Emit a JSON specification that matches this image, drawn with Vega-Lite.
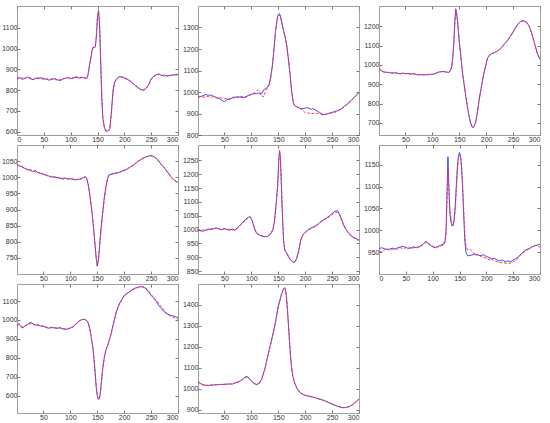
{
"$schema": "https://vega.github.io/schema/vega-lite/v6.json",
"padding": {"left": 1, "top": 5, "right": 5, "bottom": 2},
"columns": 3,
"spacing": {"row": 10, "column": 20},
"bounds": "flush",
"config": {"view": {"stroke": null}, "axis": {"labelFont": "Liberation Sans", "labelFontSize": 7, "labelColor": "#333333", "tickColor": "#555555", "domainColor": "#888888", "grid": false, "tickSize": -3, "labelPadding": 3, "domainWidth": 0.8, "tickWidth": 0.8, "format": "d"}},
"datasets": {"d": [
{"p":1,"x":0,"b":855,"r":852},{"p":1,"x":5,"b":860,"r":862},{"p":1,"x":10,"b":852,"r":858},{"p":1,"x":15,"b":858,"r":855},{"p":1,"x":20,"b":862,"r":865},{"p":1,"x":25,"b":855,"r":858},{"p":1,"x":30,"b":850,"r":852},{"p":1,"x":35,"b":858,"r":856},{"p":1,"x":40,"b":855,"r":860},{"p":1,"x":45,"b":860,"r":855},{"p":1,"x":50,"b":855,"r":852},{"p":1,"x":55,"b":852,"r":856},{"p":1,"x":60,"b":848,"r":850},{"p":1,"x":65,"b":852,"r":855},{"p":1,"x":70,"b":856,"r":852},{"p":1,"x":75,"b":850,"r":848},{"p":1,"x":80,"b":846,"r":850},{"p":1,"x":85,"b":852,"r":855},{"p":1,"x":90,"b":858,"r":856},{"p":1,"x":95,"b":860,"r":862},{"p":1,"x":100,"b":855,"r":858},{"p":1,"x":105,"b":860,"r":856},{"p":1,"x":110,"b":862,"r":865},{"p":1,"x":115,"b":858,"r":860},{"p":1,"x":120,"b":862,"r":858},{"p":1,"x":125,"b":860,"r":862},{"p":1,"x":130,"b":855,"r":858},{"p":1,"x":132,"b":870,"r":868},{"p":1,"x":135,"b":920,"r":915},{"p":1,"x":138,"b":960,"r":958},{"p":1,"x":140,"b":995,"r":990},{"p":1,"x":142,"b":1008,"r":1005},{"p":1,"x":144,"b":1005,"r":1002},{"p":1,"x":146,"b":1010,"r":1008},{"p":1,"x":148,"b":1060,"r":1070},{"p":1,"x":150,"b":1150,"r":1160},{"p":1,"x":152,"b":1182,"r":1185},{"p":1,"x":154,"b":1100,"r":1120},{"p":1,"x":156,"b":920,"r":950},{"p":1,"x":158,"b":760,"r":780},{"p":1,"x":160,"b":665,"r":660},{"p":1,"x":163,"b":620,"r":615},{"p":1,"x":166,"b":602,"r":600},{"p":1,"x":170,"b":605,"r":603},{"p":1,"x":173,"b":615,"r":612},{"p":1,"x":176,"b":700,"r":690},{"p":1,"x":179,"b":800,"r":790},{"p":1,"x":182,"b":840,"r":838},{"p":1,"x":186,"b":855,"r":852},{"p":1,"x":190,"b":865,"r":862},{"p":1,"x":195,"b":863,"r":865},{"p":1,"x":200,"b":858,"r":860},{"p":1,"x":205,"b":852,"r":855},{"p":1,"x":210,"b":845,"r":848},{"p":1,"x":215,"b":835,"r":832},{"p":1,"x":220,"b":822,"r":825},{"p":1,"x":225,"b":812,"r":815},{"p":1,"x":230,"b":805,"r":802},{"p":1,"x":235,"b":800,"r":798},{"p":1,"x":240,"b":808,"r":805},{"p":1,"x":245,"b":825,"r":822},{"p":1,"x":250,"b":855,"r":850},{"p":1,"x":255,"b":868,"r":865},{"p":1,"x":260,"b":875,"r":872},{"p":1,"x":265,"b":877,"r":875},{"p":1,"x":270,"b":870,"r":874},{"p":1,"x":275,"b":872,"r":866},{"p":1,"x":280,"b":868,"r":870},{"p":1,"x":285,"b":870,"r":872},{"p":1,"x":290,"b":873,"r":870},{"p":1,"x":295,"b":875,"r":872},{"p":1,"x":300,"b":876,"r":874},
{"p":2,"x":1,"b":975,"r":978},{"p":2,"x":5,"b":978,"r":980},{"p":2,"x":10,"b":982,"r":975},{"p":2,"x":15,"b":988,"r":978},{"p":2,"x":20,"b":985,"r":980},{"p":2,"x":25,"b":986,"r":975},{"p":2,"x":30,"b":980,"r":978},{"p":2,"x":35,"b":975,"r":972},{"p":2,"x":40,"b":970,"r":975},{"p":2,"x":45,"b":962,"r":972},{"p":2,"x":50,"b":955,"r":968},{"p":2,"x":55,"b":965,"r":972},{"p":2,"x":60,"b":968,"r":965},{"p":2,"x":65,"b":972,"r":975},{"p":2,"x":70,"b":975,"r":978},{"p":2,"x":75,"b":978,"r":975},{"p":2,"x":80,"b":976,"r":980},{"p":2,"x":85,"b":974,"r":978},{"p":2,"x":90,"b":978,"r":976},{"p":2,"x":95,"b":985,"r":982},{"p":2,"x":100,"b":990,"r":988},{"p":2,"x":105,"b":992,"r":995},{"p":2,"x":110,"b":993,"r":1005},{"p":2,"x":113,"b":995,"r":1010},{"p":2,"x":116,"b":990,"r":1000},{"p":2,"x":120,"b":995,"r":980},{"p":2,"x":123,"b":1010,"r":978},{"p":2,"x":126,"b":1015,"r":1000},{"p":2,"x":130,"b":1022,"r":1020},{"p":2,"x":133,"b":1035,"r":1030},{"p":2,"x":136,"b":1070,"r":1065},{"p":2,"x":139,"b":1120,"r":1115},{"p":2,"x":142,"b":1200,"r":1190},{"p":2,"x":145,"b":1285,"r":1280},{"p":2,"x":148,"b":1340,"r":1335},{"p":2,"x":150,"b":1360,"r":1355},{"p":2,"x":152,"b":1365,"r":1358},{"p":2,"x":154,"b":1355,"r":1350},{"p":2,"x":157,"b":1320,"r":1315},{"p":2,"x":160,"b":1285,"r":1280},{"p":2,"x":163,"b":1255,"r":1250},{"p":2,"x":166,"b":1215,"r":1210},{"p":2,"x":169,"b":1150,"r":1150},{"p":2,"x":172,"b":1080,"r":1085},{"p":2,"x":175,"b":1000,"r":1005},{"p":2,"x":178,"b":948,"r":950},{"p":2,"x":181,"b":935,"r":938},{"p":2,"x":185,"b":930,"r":932},{"p":2,"x":190,"b":925,"r":925},{"p":2,"x":195,"b":922,"r":915},{"p":2,"x":200,"b":925,"r":905},{"p":2,"x":205,"b":928,"r":902},{"p":2,"x":210,"b":920,"r":900},{"p":2,"x":215,"b":922,"r":900},{"p":2,"x":220,"b":915,"r":902},{"p":2,"x":225,"b":908,"r":900},{"p":2,"x":230,"b":900,"r":895},{"p":2,"x":235,"b":895,"r":893},{"p":2,"x":240,"b":897,"r":898},{"p":2,"x":245,"b":902,"r":900},{"p":2,"x":250,"b":905,"r":903},{"p":2,"x":255,"b":910,"r":905},{"p":2,"x":260,"b":912,"r":912},{"p":2,"x":265,"b":918,"r":920},{"p":2,"x":270,"b":928,"r":925},{"p":2,"x":275,"b":938,"r":936},{"p":2,"x":280,"b":948,"r":946},{"p":2,"x":285,"b":960,"r":958},{"p":2,"x":290,"b":972,"r":970},{"p":2,"x":295,"b":985,"r":983},{"p":2,"x":300,"b":998,"r":996},
{"p":3,"x":1,"b":985,"r":982},{"p":3,"x":3,"b":978,"r":980},{"p":3,"x":6,"b":968,"r":970},{"p":3,"x":10,"b":964,"r":962},{"p":3,"x":15,"b":962,"r":960},{"p":3,"x":20,"b":960,"r":962},{"p":3,"x":25,"b":958,"r":956},{"p":3,"x":30,"b":960,"r":958},{"p":3,"x":35,"b":956,"r":958},{"p":3,"x":40,"b":955,"r":953},{"p":3,"x":45,"b":958,"r":955},{"p":3,"x":50,"b":954,"r":956},{"p":3,"x":55,"b":956,"r":953},{"p":3,"x":60,"b":952,"r":954},{"p":3,"x":65,"b":955,"r":952},{"p":3,"x":70,"b":950,"r":952},{"p":3,"x":75,"b":949,"r":950},{"p":3,"x":80,"b":950,"r":948},{"p":3,"x":85,"b":948,"r":950},{"p":3,"x":90,"b":950,"r":948},{"p":3,"x":95,"b":952,"r":950},{"p":3,"x":100,"b":950,"r":952},{"p":3,"x":105,"b":955,"r":953},{"p":3,"x":110,"b":962,"r":960},{"p":3,"x":115,"b":964,"r":965},{"p":3,"x":120,"b":966,"r":964},{"p":3,"x":125,"b":963,"r":965},{"p":3,"x":130,"b":962,"r":960},{"p":3,"x":133,"b":968,"r":966},{"p":3,"x":136,"b":990,"r":985},{"p":3,"x":138,"b":1040,"r":1035},{"p":3,"x":140,"b":1120,"r":1110},{"p":3,"x":142,"b":1230,"r":1220},{"p":3,"x":143.5,"b":1290,"r":1285},{"p":3,"x":145,"b":1270,"r":1275},{"p":3,"x":147,"b":1220,"r":1225},{"p":3,"x":150,"b":1120,"r":1130},{"p":3,"x":153,"b":1040,"r":1045},{"p":3,"x":156,"b":960,"r":965},{"p":3,"x":159,"b":900,"r":905},{"p":3,"x":162,"b":840,"r":842},{"p":3,"x":165,"b":785,"r":790},{"p":3,"x":168,"b":740,"r":742},{"p":3,"x":171,"b":700,"r":705},{"p":3,"x":174,"b":678,"r":680},{"p":3,"x":176,"b":676,"r":678},{"p":3,"x":178,"b":685,"r":686},{"p":3,"x":181,"b":710,"r":712},{"p":3,"x":184,"b":760,"r":758},{"p":3,"x":187,"b":820,"r":818},{"p":3,"x":190,"b":870,"r":868},{"p":3,"x":193,"b":915,"r":912},{"p":3,"x":196,"b":960,"r":958},{"p":3,"x":199,"b":995,"r":992},{"p":3,"x":202,"b":1030,"r":1028},{"p":3,"x":205,"b":1048,"r":1046},{"p":3,"x":210,"b":1058,"r":1056},{"p":3,"x":215,"b":1063,"r":1062},{"p":3,"x":220,"b":1070,"r":1070},{"p":3,"x":225,"b":1080,"r":1078},{"p":3,"x":230,"b":1095,"r":1093},{"p":3,"x":235,"b":1112,"r":1110},{"p":3,"x":240,"b":1128,"r":1126},{"p":3,"x":245,"b":1148,"r":1146},{"p":3,"x":250,"b":1170,"r":1168},{"p":3,"x":255,"b":1195,"r":1193},{"p":3,"x":260,"b":1215,"r":1213},{"p":3,"x":265,"b":1226,"r":1224},{"p":3,"x":270,"b":1228,"r":1227},{"p":3,"x":275,"b":1220,"r":1218},{"p":3,"x":280,"b":1200,"r":1198},{"p":3,"x":285,"b":1160,"r":1158},{"p":3,"x":290,"b":1110,"r":1108},{"p":3,"x":295,"b":1060,"r":1058},{"p":3,"x":300,"b":1028,"r":1030},
{"p":4,"x":1,"b":1040,"r":1038},{"p":4,"x":5,"b":1036,"r":1035},{"p":4,"x":10,"b":1032,"r":1034},{"p":4,"x":15,"b":1028,"r":1030},{"p":4,"x":20,"b":1025,"r":1022},{"p":4,"x":25,"b":1022,"r":1024},{"p":4,"x":30,"b":1018,"r":1020},{"p":4,"x":35,"b":1020,"r":1017},{"p":4,"x":40,"b":1015,"r":1014},{"p":4,"x":45,"b":1012,"r":1014},{"p":4,"x":50,"b":1010,"r":1008},{"p":4,"x":55,"b":1006,"r":1008},{"p":4,"x":60,"b":1004,"r":1002},{"p":4,"x":65,"b":1000,"r":1003},{"p":4,"x":70,"b":1002,"r":998},{"p":4,"x":75,"b":999,"r":1001},{"p":4,"x":80,"b":997,"r":999},{"p":4,"x":85,"b":996,"r":994},{"p":4,"x":90,"b":998,"r":995},{"p":4,"x":95,"b":994,"r":996},{"p":4,"x":100,"b":996,"r":994},{"p":4,"x":105,"b":993,"r":995},{"p":4,"x":110,"b":992,"r":994},{"p":4,"x":115,"b":994,"r":992},{"p":4,"x":120,"b":994,"r":996},{"p":4,"x":125,"b":1000,"r":998},{"p":4,"x":128,"b":1002,"r":1000},{"p":4,"x":131,"b":994,"r":995},{"p":4,"x":134,"b":970,"r":972},{"p":4,"x":137,"b":935,"r":938},{"p":4,"x":140,"b":895,"r":898},{"p":4,"x":143,"b":845,"r":848},{"p":4,"x":146,"b":790,"r":792},{"p":4,"x":148,"b":750,"r":752},{"p":4,"x":150,"b":724,"r":726},{"p":4,"x":152,"b":740,"r":738},{"p":4,"x":154,"b":780,"r":775},{"p":4,"x":157,"b":840,"r":835},{"p":4,"x":160,"b":890,"r":885},{"p":4,"x":163,"b":935,"r":930},{"p":4,"x":166,"b":970,"r":966},{"p":4,"x":169,"b":995,"r":992},{"p":4,"x":172,"b":1008,"r":1006},{"p":4,"x":176,"b":1010,"r":1009},{"p":4,"x":180,"b":1012,"r":1010},{"p":4,"x":185,"b":1012,"r":1014},{"p":4,"x":190,"b":1015,"r":1013},{"p":4,"x":195,"b":1018,"r":1019},{"p":4,"x":200,"b":1022,"r":1020},{"p":4,"x":205,"b":1025,"r":1024},{"p":4,"x":210,"b":1030,"r":1032},{"p":4,"x":215,"b":1036,"r":1034},{"p":4,"x":220,"b":1042,"r":1040},{"p":4,"x":225,"b":1048,"r":1050},{"p":4,"x":230,"b":1054,"r":1053},{"p":4,"x":235,"b":1058,"r":1060},{"p":4,"x":240,"b":1063,"r":1062},{"p":4,"x":245,"b":1066,"r":1065},{"p":4,"x":250,"b":1068,"r":1066},{"p":4,"x":255,"b":1064,"r":1065},{"p":4,"x":260,"b":1058,"r":1056},{"p":4,"x":265,"b":1048,"r":1050},{"p":4,"x":270,"b":1038,"r":1036},{"p":4,"x":275,"b":1028,"r":1030},{"p":4,"x":280,"b":1018,"r":1016},{"p":4,"x":285,"b":1005,"r":1008},{"p":4,"x":290,"b":996,"r":994},{"p":4,"x":295,"b":988,"r":990},{"p":4,"x":300,"b":984,"r":982},
{"p":5,"x":1,"b":1000,"r":1002},{"p":5,"x":5,"b":996,"r":998},{"p":5,"x":10,"b":994,"r":1000},{"p":5,"x":15,"b":998,"r":996},{"p":5,"x":20,"b":1002,"r":1000},{"p":5,"x":25,"b":1000,"r":1004},{"p":5,"x":30,"b":1004,"r":1002},{"p":5,"x":35,"b":1006,"r":1003},{"p":5,"x":40,"b":1002,"r":1005},{"p":5,"x":45,"b":1000,"r":998},{"p":5,"x":50,"b":1004,"r":1002},{"p":5,"x":55,"b":1000,"r":1003},{"p":5,"x":60,"b":998,"r":1000},{"p":5,"x":65,"b":1002,"r":998},{"p":5,"x":70,"b":998,"r":1000},{"p":5,"x":75,"b":1008,"r":1006},{"p":5,"x":80,"b":1018,"r":1016},{"p":5,"x":85,"b":1028,"r":1025},{"p":5,"x":90,"b":1038,"r":1035},{"p":5,"x":95,"b":1045,"r":1044},{"p":5,"x":98,"b":1046,"r":1045},{"p":5,"x":101,"b":1035,"r":1036},{"p":5,"x":104,"b":1015,"r":1018},{"p":5,"x":107,"b":998,"r":1000},{"p":5,"x":110,"b":986,"r":988},{"p":5,"x":115,"b":980,"r":982},{"p":5,"x":120,"b":976,"r":978},{"p":5,"x":125,"b":974,"r":976},{"p":5,"x":130,"b":976,"r":974},{"p":5,"x":135,"b":982,"r":984},{"p":5,"x":140,"b":1000,"r":998},{"p":5,"x":143,"b":1030,"r":1028},{"p":5,"x":146,"b":1090,"r":1085},{"p":5,"x":149,"b":1160,"r":1155},{"p":5,"x":151,"b":1250,"r":1248},{"p":5,"x":152.5,"b":1285,"r":1283},{"p":5,"x":154,"b":1260,"r":1262},{"p":5,"x":156,"b":1150,"r":1160},{"p":5,"x":158,"b":1040,"r":1050},{"p":5,"x":160,"b":960,"r":965},{"p":5,"x":162,"b":925,"r":930},{"p":5,"x":165,"b":918,"r":915},{"p":5,"x":168,"b":905,"r":910},{"p":5,"x":172,"b":893,"r":895},{"p":5,"x":176,"b":885,"r":886},{"p":5,"x":180,"b":882,"r":880},{"p":5,"x":184,"b":895,"r":892},{"p":5,"x":188,"b":925,"r":920},{"p":5,"x":192,"b":965,"r":960},{"p":5,"x":196,"b":982,"r":980},{"p":5,"x":200,"b":990,"r":988},{"p":5,"x":205,"b":1000,"r":996},{"p":5,"x":210,"b":1005,"r":1002},{"p":5,"x":215,"b":1010,"r":1008},{"p":5,"x":220,"b":1015,"r":1012},{"p":5,"x":225,"b":1022,"r":1020},{"p":5,"x":230,"b":1030,"r":1028},{"p":5,"x":235,"b":1036,"r":1035},{"p":5,"x":240,"b":1042,"r":1040},{"p":5,"x":245,"b":1050,"r":1046},{"p":5,"x":250,"b":1058,"r":1054},{"p":5,"x":255,"b":1066,"r":1060},{"p":5,"x":260,"b":1068,"r":1062},{"p":5,"x":264,"b":1055,"r":1052},{"p":5,"x":268,"b":1035,"r":1032},{"p":5,"x":272,"b":1015,"r":1012},{"p":5,"x":276,"b":1000,"r":1000},{"p":5,"x":280,"b":990,"r":988},{"p":5,"x":285,"b":978,"r":980},{"p":5,"x":290,"b":972,"r":970},{"p":5,"x":295,"b":968,"r":966},{"p":5,"x":300,"b":962,"r":960},
{"p":6,"x":0,"b":958,"r":950},{"p":6,"x":5,"b":960,"r":952},{"p":6,"x":10,"b":958,"r":955},{"p":6,"x":15,"b":956,"r":958},{"p":6,"x":20,"b":957,"r":954},{"p":6,"x":25,"b":959,"r":956},{"p":6,"x":30,"b":957,"r":958},{"p":6,"x":35,"b":960,"r":957},{"p":6,"x":40,"b":962,"r":960},{"p":6,"x":45,"b":963,"r":958},{"p":6,"x":50,"b":961,"r":960},{"p":6,"x":55,"b":958,"r":962},{"p":6,"x":60,"b":960,"r":958},{"p":6,"x":65,"b":962,"r":960},{"p":6,"x":70,"b":960,"r":962},{"p":6,"x":75,"b":963,"r":961},{"p":6,"x":80,"b":966,"r":965},{"p":6,"x":85,"b":972,"r":970},{"p":6,"x":88,"b":975,"r":972},{"p":6,"x":91,"b":970,"r":972},{"p":6,"x":95,"b":966,"r":968},{"p":6,"x":100,"b":962,"r":964},{"p":6,"x":105,"b":960,"r":962},{"p":6,"x":110,"b":963,"r":962},{"p":6,"x":115,"b":966,"r":964},{"p":6,"x":120,"b":968,"r":966},{"p":6,"x":123,"b":975,"r":972},{"p":6,"x":125,"b":1000,"r":990},{"p":6,"x":127,"b":1100,"r":1080},{"p":6,"x":128.5,"b":1168,"r":1140},{"p":6,"x":130,"b":1100,"r":1110},{"p":6,"x":132,"b":1040,"r":1050},{"p":6,"x":134,"b":1020,"r":1030},{"p":6,"x":136,"b":1010,"r":1015},{"p":6,"x":138,"b":1012,"r":1010},{"p":6,"x":140,"b":1025,"r":1020},{"p":6,"x":142,"b":1055,"r":1045},{"p":6,"x":144,"b":1100,"r":1090},{"p":6,"x":146,"b":1145,"r":1135},{"p":6,"x":148,"b":1170,"r":1162},{"p":6,"x":150,"b":1178,"r":1172},{"p":6,"x":152,"b":1170,"r":1168},{"p":6,"x":154,"b":1140,"r":1145},{"p":6,"x":156,"b":1090,"r":1100},{"p":6,"x":158,"b":1030,"r":1045},{"p":6,"x":160,"b":975,"r":990},{"p":6,"x":162,"b":950,"r":965},{"p":6,"x":165,"b":942,"r":955},{"p":6,"x":170,"b":942,"r":956},{"p":6,"x":175,"b":944,"r":950},{"p":6,"x":180,"b":946,"r":942},{"p":6,"x":185,"b":943,"r":945},{"p":6,"x":190,"b":942,"r":940},{"p":6,"x":195,"b":944,"r":938},{"p":6,"x":200,"b":940,"r":936},{"p":6,"x":205,"b":938,"r":932},{"p":6,"x":210,"b":934,"r":935},{"p":6,"x":215,"b":936,"r":930},{"p":6,"x":220,"b":932,"r":928},{"p":6,"x":225,"b":930,"r":926},{"p":6,"x":230,"b":932,"r":926},{"p":6,"x":235,"b":928,"r":925},{"p":6,"x":240,"b":930,"r":924},{"p":6,"x":245,"b":928,"r":925},{"p":6,"x":250,"b":932,"r":928},{"p":6,"x":255,"b":935,"r":930},{"p":6,"x":260,"b":940,"r":938},{"p":6,"x":265,"b":946,"r":945},{"p":6,"x":270,"b":952,"r":950},{"p":6,"x":275,"b":956,"r":954},{"p":6,"x":280,"b":958,"r":958},{"p":6,"x":285,"b":962,"r":962},{"p":6,"x":290,"b":965,"r":964},{"p":6,"x":295,"b":966,"r":966},{"p":6,"x":300,"b":968,"r":960},
{"p":7,"x":1,"b":968,"r":972},{"p":7,"x":4,"b":980,"r":976},{"p":7,"x":7,"b":972,"r":970},{"p":7,"x":10,"b":958,"r":962},{"p":7,"x":13,"b":960,"r":966},{"p":7,"x":16,"b":970,"r":968},{"p":7,"x":20,"b":975,"r":972},{"p":7,"x":25,"b":985,"r":980},{"p":7,"x":28,"b":986,"r":982},{"p":7,"x":31,"b":978,"r":980},{"p":7,"x":35,"b":974,"r":970},{"p":7,"x":40,"b":972,"r":975},{"p":7,"x":45,"b":968,"r":970},{"p":7,"x":50,"b":966,"r":968},{"p":7,"x":55,"b":960,"r":964},{"p":7,"x":60,"b":956,"r":958},{"p":7,"x":65,"b":962,"r":958},{"p":7,"x":70,"b":958,"r":960},{"p":7,"x":75,"b":955,"r":958},{"p":7,"x":80,"b":960,"r":956},{"p":7,"x":85,"b":954,"r":956},{"p":7,"x":90,"b":950,"r":952},{"p":7,"x":95,"b":952,"r":955},{"p":7,"x":100,"b":956,"r":958},{"p":7,"x":105,"b":965,"r":962},{"p":7,"x":110,"b":978,"r":975},{"p":7,"x":115,"b":992,"r":990},{"p":7,"x":120,"b":1000,"r":1000},{"p":7,"x":125,"b":1004,"r":1003},{"p":7,"x":130,"b":998,"r":998},{"p":7,"x":133,"b":985,"r":988},{"p":7,"x":136,"b":955,"r":958},{"p":7,"x":139,"b":905,"r":910},{"p":7,"x":142,"b":850,"r":855},{"p":7,"x":145,"b":760,"r":765},{"p":7,"x":148,"b":650,"r":655},{"p":7,"x":150,"b":600,"r":605},{"p":7,"x":152,"b":580,"r":582},{"p":7,"x":154,"b":582,"r":584},{"p":7,"x":156,"b":620,"r":618},{"p":7,"x":158,"b":680,"r":675},{"p":7,"x":160,"b":740,"r":735},{"p":7,"x":163,"b":800,"r":795},{"p":7,"x":166,"b":840,"r":838},{"p":7,"x":170,"b":870,"r":868},{"p":7,"x":175,"b":920,"r":918},{"p":7,"x":180,"b":980,"r":975},{"p":7,"x":185,"b":1040,"r":1035},{"p":7,"x":190,"b":1080,"r":1076},{"p":7,"x":195,"b":1105,"r":1100},{"p":7,"x":200,"b":1128,"r":1130},{"p":7,"x":205,"b":1138,"r":1140},{"p":7,"x":210,"b":1150,"r":1148},{"p":7,"x":215,"b":1160,"r":1158},{"p":7,"x":220,"b":1168,"r":1165},{"p":7,"x":225,"b":1172,"r":1170},{"p":7,"x":230,"b":1176,"r":1174},{"p":7,"x":235,"b":1175,"r":1176},{"p":7,"x":240,"b":1166,"r":1170},{"p":7,"x":245,"b":1150,"r":1155},{"p":7,"x":250,"b":1130,"r":1135},{"p":7,"x":255,"b":1115,"r":1118},{"p":7,"x":260,"b":1098,"r":1102},{"p":7,"x":265,"b":1072,"r":1085},{"p":7,"x":270,"b":1058,"r":1065},{"p":7,"x":275,"b":1040,"r":1052},{"p":7,"x":280,"b":1032,"r":1030},{"p":7,"x":285,"b":1025,"r":1022},{"p":7,"x":290,"b":1022,"r":1015},{"p":7,"x":295,"b":1018,"r":1010},{"p":7,"x":300,"b":1012,"r":1003},
{"p":8,"x":1,"b":1035,"r":1033},{"p":8,"x":5,"b":1025,"r":1026},{"p":8,"x":10,"b":1020,"r":1018},{"p":8,"x":15,"b":1016,"r":1018},{"p":8,"x":20,"b":1015,"r":1016},{"p":8,"x":25,"b":1018,"r":1016},{"p":8,"x":30,"b":1017,"r":1019},{"p":8,"x":35,"b":1020,"r":1018},{"p":8,"x":40,"b":1019,"r":1021},{"p":8,"x":45,"b":1021,"r":1020},{"p":8,"x":50,"b":1020,"r":1022},{"p":8,"x":55,"b":1022,"r":1021},{"p":8,"x":60,"b":1023,"r":1022},{"p":8,"x":65,"b":1022,"r":1024},{"p":8,"x":70,"b":1028,"r":1026},{"p":8,"x":75,"b":1032,"r":1030},{"p":8,"x":80,"b":1038,"r":1036},{"p":8,"x":85,"b":1048,"r":1046},{"p":8,"x":90,"b":1058,"r":1055},{"p":8,"x":93,"b":1056,"r":1055},{"p":8,"x":96,"b":1050,"r":1048},{"p":8,"x":100,"b":1038,"r":1036},{"p":8,"x":105,"b":1025,"r":1024},{"p":8,"x":110,"b":1020,"r":1020},{"p":8,"x":115,"b":1026,"r":1024},{"p":8,"x":120,"b":1050,"r":1048},{"p":8,"x":125,"b":1095,"r":1092},{"p":8,"x":130,"b":1150,"r":1148},{"p":8,"x":135,"b":1205,"r":1200},{"p":8,"x":140,"b":1260,"r":1255},{"p":8,"x":145,"b":1320,"r":1315},{"p":8,"x":150,"b":1395,"r":1390},{"p":8,"x":153,"b":1420,"r":1420},{"p":8,"x":156,"b":1450,"r":1450},{"p":8,"x":159,"b":1472,"r":1470},{"p":8,"x":161,"b":1482,"r":1480},{"p":8,"x":163,"b":1478,"r":1478},{"p":8,"x":165,"b":1445,"r":1448},{"p":8,"x":167,"b":1380,"r":1390},{"p":8,"x":169,"b":1300,"r":1310},{"p":8,"x":171,"b":1220,"r":1230},{"p":8,"x":173,"b":1150,"r":1155},{"p":8,"x":175,"b":1095,"r":1100},{"p":8,"x":177,"b":1060,"r":1065},{"p":8,"x":180,"b":1030,"r":1032},{"p":8,"x":185,"b":1000,"r":1002},{"p":8,"x":190,"b":982,"r":984},{"p":8,"x":195,"b":975,"r":973},{"p":8,"x":200,"b":968,"r":970},{"p":8,"x":205,"b":966,"r":964},{"p":8,"x":210,"b":962,"r":964},{"p":8,"x":215,"b":960,"r":958},{"p":8,"x":220,"b":956,"r":958},{"p":8,"x":225,"b":952,"r":950},{"p":8,"x":230,"b":948,"r":950},{"p":8,"x":235,"b":944,"r":942},{"p":8,"x":240,"b":938,"r":940},{"p":8,"x":245,"b":932,"r":934},{"p":8,"x":250,"b":926,"r":928},{"p":8,"x":255,"b":922,"r":920},{"p":8,"x":260,"b":916,"r":918},{"p":8,"x":265,"b":912,"r":914},{"p":8,"x":270,"b":910,"r":908},{"p":8,"x":275,"b":910,"r":912},{"p":8,"x":280,"b":914,"r":912},{"p":8,"x":285,"b":918,"r":920},{"p":8,"x":290,"b":928,"r":926},{"p":8,"x":295,"b":938,"r":940},{"p":8,"x":300,"b":952,"r":950}
]},
"concat": [
{"width":161,"height":129,"data":{"name":"d"},"transform":[{"filter":"datum.p==1"}],"layer":[
 {"mark":{"type":"line","color":"#3333ff","strokeWidth":0.9,"clip":true},"encoding":{"x":{"field":"x","type":"quantitative","scale":{"domain":[0,300],"nice":false},"axis":{"orient":"bottom","title":null,"values":[0,50,100,150,200,250,300]}},"y":{"field":"b","type":"quantitative","scale":{"domain":[584,1205],"nice":false,"zero":false},"axis":{"orient":"left","title":null,"values":[600,700,800,900,1000,1100]}}}},
 {"mark":{"type":"line","color":"#ff3333","strokeWidth":0.9,"strokeDash":[3,1.5],"clip":true},"encoding":{"x":{"field":"x","type":"quantitative","scale":{"domain":[0,300],"nice":false},"axis":{"orient":"top","title":null,"labels":false,"values":[0,50,100,150,200,250,300]}},"y":{"field":"r","type":"quantitative","scale":{"domain":[584,1205],"nice":false,"zero":false},"axis":{"orient":"right","title":null,"labels":false,"values":[600,700,800,900,1000,1100]}}}}]},
{"width":161,"height":129,"data":{"name":"d"},"transform":[{"filter":"datum.p==2"}],"layer":[
 {"mark":{"type":"line","color":"#3333ff","strokeWidth":0.9,"clip":true},"encoding":{"x":{"field":"x","type":"quantitative","scale":{"domain":[1,300],"nice":false},"axis":{"orient":"bottom","title":null,"values":[50,100,150,200,250,300]}},"y":{"field":"b","type":"quantitative","scale":{"domain":[800,1400],"nice":false,"zero":false},"axis":{"orient":"left","title":null,"values":[800,900,1000,1100,1200,1300]}}}},
 {"mark":{"type":"line","color":"#ff3333","strokeWidth":0.9,"strokeDash":[3,1.5],"clip":true},"encoding":{"x":{"field":"x","type":"quantitative","scale":{"domain":[1,300],"nice":false},"axis":{"orient":"top","title":null,"labels":false,"values":[50,100,150,200,250,300]}},"y":{"field":"r","type":"quantitative","scale":{"domain":[800,1400],"nice":false,"zero":false},"axis":{"orient":"right","title":null,"labels":false,"values":[800,900,1000,1100,1200,1300]}}}}]},
{"width":161,"height":129,"data":{"name":"d"},"transform":[{"filter":"datum.p==3"}],"layer":[
 {"mark":{"type":"line","color":"#3333ff","strokeWidth":0.9,"clip":true},"encoding":{"x":{"field":"x","type":"quantitative","scale":{"domain":[1,300],"nice":false},"axis":{"orient":"bottom","title":null,"values":[50,100,150,200,250,300]}},"y":{"field":"b","type":"quantitative","scale":{"domain":[638,1304],"nice":false,"zero":false},"axis":{"orient":"left","title":null,"values":[700,800,900,1000,1100,1200]}}}},
 {"mark":{"type":"line","color":"#ff3333","strokeWidth":0.9,"strokeDash":[3,1.5],"clip":true},"encoding":{"x":{"field":"x","type":"quantitative","scale":{"domain":[1,300],"nice":false},"axis":{"orient":"top","title":null,"labels":false,"values":[50,100,150,200,250,300]}},"y":{"field":"r","type":"quantitative","scale":{"domain":[638,1304],"nice":false,"zero":false},"axis":{"orient":"right","title":null,"labels":false,"values":[700,800,900,1000,1100,1200]}}}}]},
{"width":161,"height":129,"data":{"name":"d"},"transform":[{"filter":"datum.p==4"}],"layer":[
 {"mark":{"type":"line","color":"#3333ff","strokeWidth":0.9,"clip":true},"encoding":{"x":{"field":"x","type":"quantitative","scale":{"domain":[1,300],"nice":false},"axis":{"orient":"bottom","title":null,"values":[50,100,150,200,250,300]}},"y":{"field":"b","type":"quantitative","scale":{"domain":[700,1100],"nice":false,"zero":false},"axis":{"orient":"left","title":null,"values":[750,800,850,900,950,1000,1050]}}}},
 {"mark":{"type":"line","color":"#ff3333","strokeWidth":0.9,"strokeDash":[3,1.5],"clip":true},"encoding":{"x":{"field":"x","type":"quantitative","scale":{"domain":[1,300],"nice":false},"axis":{"orient":"top","title":null,"labels":false,"values":[50,100,150,200,250,300]}},"y":{"field":"r","type":"quantitative","scale":{"domain":[700,1100],"nice":false,"zero":false},"axis":{"orient":"right","title":null,"labels":false,"values":[750,800,850,900,950,1000,1050]}}}}]},
{"width":161,"height":129,"data":{"name":"d"},"transform":[{"filter":"datum.p==5"}],"layer":[
 {"mark":{"type":"line","color":"#3333ff","strokeWidth":0.9,"clip":true},"encoding":{"x":{"field":"x","type":"quantitative","scale":{"domain":[1,300],"nice":false},"axis":{"orient":"bottom","title":null,"values":[50,100,150,200,250,300]}},"y":{"field":"b","type":"quantitative","scale":{"domain":[840,1305],"nice":false,"zero":false},"axis":{"orient":"left","title":null,"values":[850,900,950,1000,1050,1100,1150,1200,1250]}}}},
 {"mark":{"type":"line","color":"#ff3333","strokeWidth":0.9,"strokeDash":[3,1.5],"clip":true},"encoding":{"x":{"field":"x","type":"quantitative","scale":{"domain":[1,300],"nice":false},"axis":{"orient":"top","title":null,"labels":false,"values":[50,100,150,200,250,300]}},"y":{"field":"r","type":"quantitative","scale":{"domain":[840,1305],"nice":false,"zero":false},"axis":{"orient":"right","title":null,"labels":false,"values":[850,900,950,1000,1050,1100,1150,1200,1250]}}}}]},
{"width":161,"height":129,"data":{"name":"d"},"transform":[{"filter":"datum.p==6"}],"layer":[
 {"mark":{"type":"line","color":"#3333ff","strokeWidth":0.9,"clip":true},"encoding":{"x":{"field":"x","type":"quantitative","scale":{"domain":[0,300],"nice":false},"axis":{"orient":"bottom","title":null,"values":[0,50,100,150,200,250,300]}},"y":{"field":"b","type":"quantitative","scale":{"domain":[900,1195],"nice":false,"zero":false},"axis":{"orient":"left","title":null,"values":[950,1000,1050,1100,1150]}}}},
 {"mark":{"type":"line","color":"#ff3333","strokeWidth":0.9,"strokeDash":[3,1.5],"clip":true},"encoding":{"x":{"field":"x","type":"quantitative","scale":{"domain":[0,300],"nice":false},"axis":{"orient":"top","title":null,"labels":false,"values":[0,50,100,150,200,250,300]}},"y":{"field":"r","type":"quantitative","scale":{"domain":[900,1195],"nice":false,"zero":false},"axis":{"orient":"right","title":null,"labels":false,"values":[950,1000,1050,1100,1150]}}}}]},
{"width":161,"height":129,"data":{"name":"d"},"transform":[{"filter":"datum.p==7"}],"layer":[
 {"mark":{"type":"line","color":"#3333ff","strokeWidth":0.9,"clip":true},"encoding":{"x":{"field":"x","type":"quantitative","scale":{"domain":[1,300],"nice":false},"axis":{"orient":"bottom","title":null,"values":[50,100,150,200,250,300]}},"y":{"field":"b","type":"quantitative","scale":{"domain":[508,1190],"nice":false,"zero":false},"axis":{"orient":"left","title":null,"values":[600,700,800,900,1000,1100]}}}},
 {"mark":{"type":"line","color":"#ff3333","strokeWidth":0.9,"strokeDash":[3,1.5],"clip":true},"encoding":{"x":{"field":"x","type":"quantitative","scale":{"domain":[1,300],"nice":false},"axis":{"orient":"top","title":null,"labels":false,"values":[50,100,150,200,250,300]}},"y":{"field":"r","type":"quantitative","scale":{"domain":[508,1190],"nice":false,"zero":false},"axis":{"orient":"right","title":null,"labels":false,"values":[600,700,800,900,1000,1100]}}}}]},
{"width":161,"height":129,"data":{"name":"d"},"transform":[{"filter":"datum.p==8"}],"layer":[
 {"mark":{"type":"line","color":"#3333ff","strokeWidth":0.9,"clip":true},"encoding":{"x":{"field":"x","type":"quantitative","scale":{"domain":[1,300],"nice":false},"axis":{"orient":"bottom","title":null,"values":[50,100,150,200,250,300]}},"y":{"field":"b","type":"quantitative","scale":{"domain":[884,1500],"nice":false,"zero":false},"axis":{"orient":"left","title":null,"values":[900,1000,1100,1200,1300,1400]}}}},
 {"mark":{"type":"line","color":"#ff3333","strokeWidth":0.9,"strokeDash":[3,1.5],"clip":true},"encoding":{"x":{"field":"x","type":"quantitative","scale":{"domain":[1,300],"nice":false},"axis":{"orient":"top","title":null,"labels":false,"values":[50,100,150,200,250,300]}},"y":{"field":"r","type":"quantitative","scale":{"domain":[884,1500],"nice":false,"zero":false},"axis":{"orient":"right","title":null,"labels":false,"values":[900,1000,1100,1200,1300,1400]}}}}]}
]
}
